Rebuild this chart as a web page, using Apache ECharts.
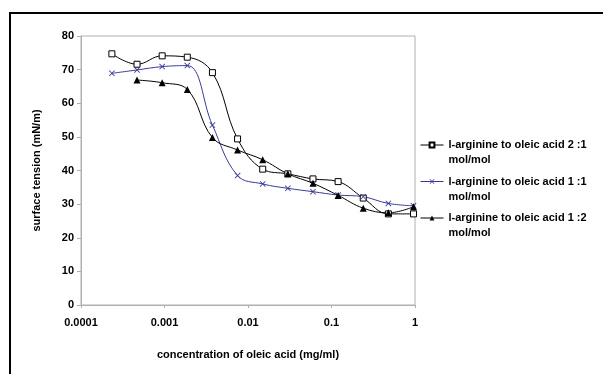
<!DOCTYPE html>
<html lang="en">
<head>
    <meta charset="UTF-8">
    <title>surface tension</title>
    <style>
        html, body { margin: 0; padding: 0; background: #fff; }
        .box { width: 603px; height: 374px; }
    </style>
    <script src="https://cdn.jsdelivr.net/npm/echarts@6/dist/echarts.min.js"></script>
</head>
<body>
<div class="box"></div>
<script>
    // concentration of oleic acid (mg/ml)
    var conc = [0.000234375, 0.00046875, 0.0009375, 0.001875, 0.00375, 0.0075,
                0.015, 0.03, 0.06, 0.12, 0.24, 0.48, 0.96];
    var names = ['l-arginine to oleic acid 2 :1\nmol/mol',
                 'l-arginine to oleic acid 1 :1\nmol/mol',
                 'l-arginine to oleic acid 1 :2\nmol/mol'];
    // surface tension (mN/m)
    var ratio21 = [74.7, 71.6, 74.1, 73.7, 69.1, 49.4, 40.4, 39.0, 37.5, 36.7, 31.8, 27.1, 27.1];
    var ratio11 = [68.9, 69.9, 70.9, 71.2, 53.5, 38.5, 36.0, 34.7, 33.7, 32.7, 32.2, 30.2, 29.5];
    var ratio12 = [66.9, 66.1, 64.1, 49.8, 46.1, 43.2, 39.0, 36.2, 32.6, 28.8, 27.4, 29.2]; // starts at conc[1]
    var xTicks = [0.0001, 0.001, 0.01, 0.1, 1];

    function pairs(vals, offset) {
        var out = [];
        for (var i = 0; i < vals.length; i++) {
            out.push([conc[i + offset], vals[i]]);
        }
        return out;
    }

    var cross = 'path://M0,1L1,0L5,4L9,0L10,1L6,5L10,9L9,10L5,6L1,10L0,9L4,5Z';
    var font = 'Liberation Sans, Arial, sans-serif';

    // one legend per series; a blank first line keeps the icon level with the name's first line
    function legendAt(name, top) {
        return {
            orient: 'vertical',
            left: 420,
            top: top,
            itemWidth: 23,
            itemHeight: 6,
            itemGap: 0,
            textGap: 9,
            padding: 0,
            data: [name],
            lineStyle: { width: 1 },
            formatter: function (n) { return ' \n' + n; },
            textStyle: {
                fontFamily: font, fontWeight: 'bold', fontSize: 11,
                color: '#000', lineHeight: 15
            }
        };
    }

    var chart = echarts.init(document.getElementsByClassName('box')[0]);
    var option = {
        animation: false,
        graphic: [{
            type: 'rect',
            shape: { x: 10, y: 13, width: 700, height: 500 },
            style: { fill: 'none', stroke: '#000', lineWidth: 2 }
        }],
        legend: [
            legendAt(names[0], 122.5),
            legendAt(names[1], 159),
            legendAt(names[2], 195.5)
        ],
        grid: {
            left: 81, right: 188, top: 36, bottom: 69,
            show: true, borderColor: '#b0b0b0', borderWidth: 1
        },
        xAxis: {
            type: 'log',
            logBase: 10,
            min: xTicks[0],
            max: xTicks[xTicks.length - 1],
            name: 'concentration of oleic acid (mg/ml)',
            nameLocation: 'middle',
            nameGap: 44,
            nameTextStyle: { fontFamily: font, fontWeight: 'bold', fontSize: 11, color: '#000' },
            axisLine: { lineStyle: { color: '#b0b0b0' } },
            axisTick: { length: 3, lineStyle: { color: '#b0b0b0' } },
            splitLine: { show: false },
            minorTick: { show: false },
            axisLabel: {
                margin: 12,
                fontFamily: font, fontWeight: 'bold', fontSize: 11, color: '#000',
                formatter: function (v) { return String(+(+v).toPrecision(1)); }
            }
        },
        yAxis: {
            type: 'value',
            min: 0, max: 80, interval: 10,
            name: 'surface tension (mN/m)',
            nameLocation: 'middle',
            nameGap: 39,
            nameTextStyle: { fontFamily: font, fontWeight: 'bold', fontSize: 11, color: '#000' },
            axisLine: { show: true, lineStyle: { color: '#b0b0b0' } },
            axisTick: { show: true, length: 4, lineStyle: { color: '#b0b0b0' } },
            splitLine: { show: false },
            axisLabel: { margin: 7, fontFamily: font, fontWeight: 'bold', fontSize: 11, color: '#000' }
        },
        series: [
            {
                name: names[0], type: 'line', smooth: 0.4,
                data: pairs(ratio21, 0),
                symbol: 'rect', symbolSize: 6,
                lineStyle: { color: '#000', width: 1 },
                itemStyle: { color: '#fff', borderColor: '#000', borderWidth: 1 }
            },
            {
                name: names[1], type: 'line', smooth: 0.4,
                data: pairs(ratio11, 0),
                symbol: cross, symbolSize: 6,
                lineStyle: { color: '#3a3a96', width: 1 },
                itemStyle: { color: '#3a3a96', borderWidth: 0 }
            },
            {
                name: names[2], type: 'line', smooth: 0.4,
                data: pairs(ratio12, 1),
                symbol: 'triangle', symbolSize: 7,
                lineStyle: { color: '#000', width: 1 },
                itemStyle: { color: '#000', borderWidth: 0 }
            }
        ]
    };
    chart.setOption(option);
</script>
</body>
</html>
